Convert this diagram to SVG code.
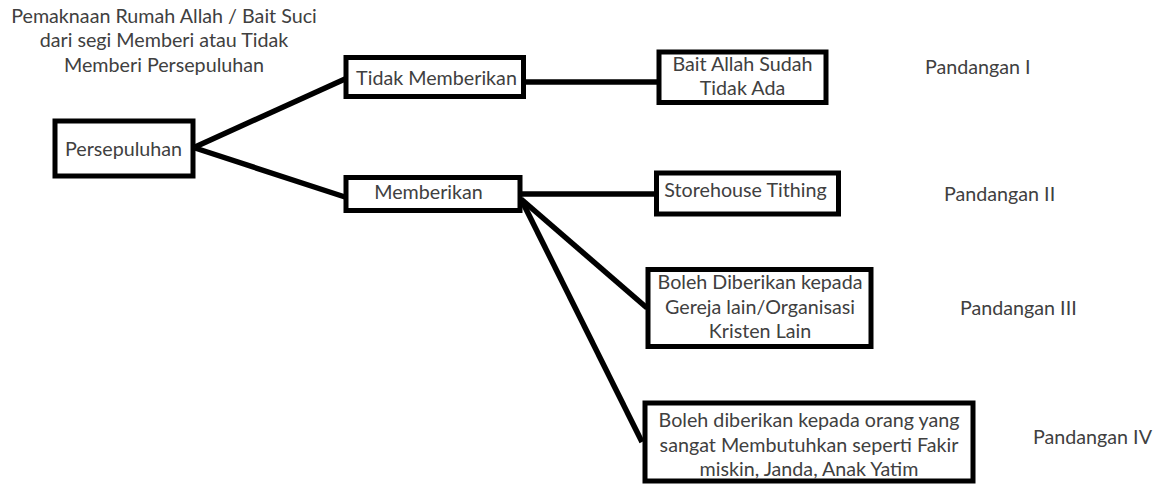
<svg xmlns="http://www.w3.org/2000/svg" width="1157" height="485" viewBox="0 0 1157 485">
<style>
  .box { fill: #ffffff; stroke: #000000; stroke-width: 5; }
  .t { font-family: Lato, "Open Sans", "Liberation Sans", sans-serif; font-size: 19.7px; fill: #404040; text-anchor: middle; }
  .ts { font-family: Lato, "Open Sans", "Liberation Sans", sans-serif; font-size: 19.7px; fill: #404040; text-anchor: start; }
  .conn { stroke: #000000; stroke-width: 5.5; fill: none; stroke-linecap: butt; }
</style>
<rect width="1157" height="485" fill="#ffffff"/>
<g id="title">
  <text class="t" x="164" y="22.5">Pemaknaan Rumah Allah / Bait Suci</text>
  <text class="t" x="164" y="47">dari segi Memberi atau Tidak</text>
  <text class="t" x="164" y="71.5">Memberi Persepuluhan</text>
</g>
<g id="connectors">
  <line class="conn" x1="195" y1="147" x2="345" y2="79"/>
  <line class="conn" x1="195" y1="148" x2="345" y2="197"/>
  <line class="conn" x1="524" y1="82" x2="658" y2="82"/>
  <line class="conn" x1="520" y1="194" x2="656" y2="194"/>
  <line class="conn" x1="521" y1="199" x2="647" y2="308"/>
  <line class="conn" x1="521" y1="199" x2="642" y2="442"/>
</g>
<g id="persepuluhan">
  <rect class="box" x="55" y="121" width="138" height="55"/>
  <text class="t" x="123.5" y="156">Persepuluhan</text>
</g>
<g id="tidak-memberikan">
  <rect class="box" x="346" y="57.5" width="177.5" height="39"/>
  <text class="t" x="436.5" y="85">Tidak Memberikan</text>
</g>
<g id="memberikan">
  <rect class="box" x="346" y="177.5" width="174" height="33"/>
  <text class="t" x="428.5" y="199">Memberikan</text>
</g>
<g id="bait-allah">
  <rect class="box" x="659" y="52" width="167" height="50.5"/>
  <text class="t" x="742.5" y="71">Bait Allah Sudah</text>
  <text class="t" x="742.5" y="95">Tidak Ada</text>
</g>
<g id="storehouse">
  <rect class="box" x="656.5" y="173" width="182" height="41"/>
  <text class="t" x="745.5" y="197">Storehouse Tithing</text>
</g>
<g id="gereja-lain">
  <rect class="box" x="648" y="269.5" width="223" height="77"/>
  <text class="t" x="760" y="289">Boleh Diberikan kepada</text>
  <text class="t" x="760" y="314">Gereja lain/Organisasi</text>
  <text class="t" x="760" y="338">Kristen Lain</text>
</g>
<g id="orang-membutuhkan">
  <rect class="box" x="645" y="403" width="328" height="78"/>
  <text class="t" x="809" y="427">Boleh diberikan kepada orang yang</text>
  <text class="t" x="809" y="452">sangat Membutuhkan seperti Fakir</text>
  <text class="t" x="809" y="476">miskin, Janda, Anak Yatim</text>
</g>
<g id="pandangan">
  <text class="ts" x="925" y="74">Pandangan I</text>
  <text class="ts" x="944" y="200.5">Pandangan II</text>
  <text class="ts" x="960" y="315">Pandangan III</text>
  <text class="ts" x="1033" y="444">Pandangan IV</text>
</g>
</svg>
